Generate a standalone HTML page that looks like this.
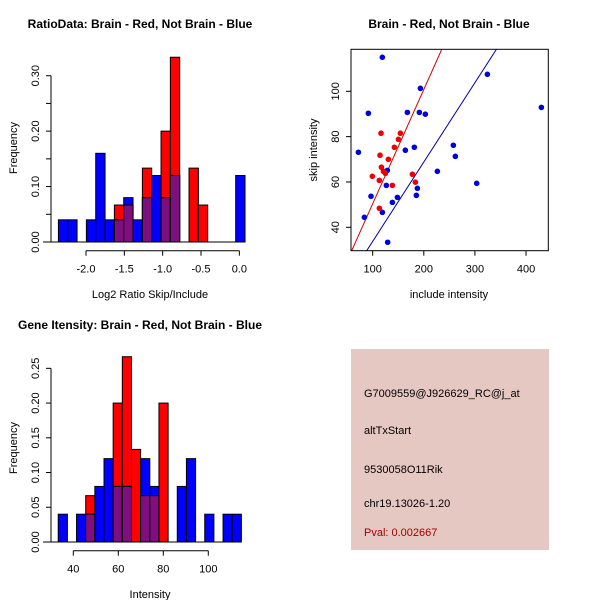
<!DOCTYPE html>
<html><head><meta charset="utf-8"><style>
body{margin:0;background:#fff;}
svg{display:block;font-family:"Liberation Sans",sans-serif;}
</style></head><body>
<svg id="s" width="600" height="600" xmlns="http://www.w3.org/2000/svg">
<rect x="0" y="0" width="600" height="600" fill="#fff"/>
<text x="140" y="28" font-size="12" font-weight="bold" text-anchor="middle">RatioData: Brain - Red, Not Brain - Blue</text>
<text x="449" y="28" font-size="12" font-weight="bold" text-anchor="middle">Brain - Red, Not Brain - Blue</text>
<text x="140" y="329" font-size="12" font-weight="bold" text-anchor="middle">Gene Itensity: Brain - Red, Not Brain - Blue</text>
<text x="150" y="298" font-size="11" text-anchor="middle">Log2 Ratio Skip/Include</text>
<text transform="translate(17,148) rotate(-90)" font-size="11" text-anchor="middle">Frequency</text>
<text x="449" y="298" font-size="11" text-anchor="middle">include intensity</text>
<text transform="translate(317,150) rotate(-90)" font-size="11" text-anchor="middle">skip intensity</text>
<text x="150" y="598" font-size="11" text-anchor="middle">Intensity</text>
<text transform="translate(17,448) rotate(-90)" font-size="11" text-anchor="middle">Frequency</text>
<g>
<rect x="351" y="349" width="198" height="201" fill="#e6c8c2"/>
<text x="364" y="397" font-size="11">G7009559@J926629_RC@j_at</text>
<text x="364" y="434" font-size="11">altTxStart</text>
<text x="364" y="473" font-size="11">9530058O11Rik</text>
<text x="364" y="507" font-size="11">chr19.13026-1.20</text>
<text x="364" y="536" font-size="11" fill="#a00000">Pval: 0.002667</text>
</g>
<g id="g1"></g><g id="g2"></g><g id="g3"></g>
</svg>
<script>
// Ratio histogram
const ratioBlue=[0.04,0.04,0,0.04,0.16,0.04,0.04,0.08,0.04,0.08,0.12,0.08,0.12,0,0,0,0,0,0,0.12];
const ratioRed=[0,0,0,0,0,0,0.0667,0.0667,0,0.1333,0,0.2,0.3333,0,0.1333,0.0667,0,0,0,0];
const ratioBinStart=-2.36, ratioBinWidth=0.1217;
const ratioXTicks=[-2.0,-1.5,-1.0,-0.5,0.0];
const ratioXLabels=["-2.0","-1.5","-1.0","-0.5","0.0"];
const ratioYTicks=[0,0.05,0.10,0.15,0.20,0.25,0.30];
const ratioYLabels=["0.00","","0.10","","0.20","","0.30"];
// Intensity histogram
const intBlue=[0.04,0,0.04,0.04,0.08,0.12,0.08,0.08,0,0.12,0.08,0,0,0.08,0.12,0,0.04,0,0.04,0.04];
const intRed=[0,0,0,0.0667,0,0,0.2,0.2667,0.1333,0.0667,0.0667,0.2,0,0,0,0,0,0,0,0];
const intBinStart=33.3, intBinWidth=4.07;
const intXTicks=[40,60,80,100];
const intXLabels=["40","60","80","100"];
const intYTicks=[0,0.05,0.10,0.15,0.20,0.25];
const intYLabels=["0.00","0.05","0.10","0.15","0.20","0.25"];
// Scatter
const blueX=[118.9,72,91.5,83.7,96.7,118.9,128.7,126.7,129.3,138.5,148.3,163.9,167.8,181.5,185.4,187.4,191.3,193.3,203,226.5,257.8,261.7,303.5,324.4,430];
const blueY=[115,73.1,90.3,44.4,53.7,46.6,65.1,58.5,33.4,51,53.2,74,90.7,75.3,54.1,57.2,90.7,101.3,89.9,64.7,76.2,71.3,59.4,107.5,92.9];
const redX=[116.3,114.3,99.3,113,113,117,121,124.8,130.7,138.5,142.4,150.3,154.1,177.6,183.5];
const redY=[81.5,71.8,62.5,60.7,48.4,66.5,64.7,63.8,70,58.5,75.3,78.8,81.5,63.4,59.9];
const redSlope=0.504, redIntercept=0;
const blueSlope=0.350, blueIntercept=-1.2;
const scXTicks=[100,200,300,400];
const scYTicks=[40,60,80,100];

const NS="http://www.w3.org/2000/svg";
function mk(parent,tag,attrs){const e=document.createElementNS(NS,tag);for(const k in attrs)e.setAttribute(k,attrs[k]);parent.appendChild(e);return e;}

function hist(g,blue,red,bs,bw,xt,xl,yt,yl,sx,sy,base,axisY,yAxisX,pref){
  for(let i=0;i<blue.length;i++){
    const x0=sx(bs+i*bw), x1=sx(bs+(i+1)*bw);
    const b=blue[i], r=red[i];
    if(r>0){const e=mk(g,'rect',{x:x0,y:sy(r),width:x1-x0,height:base-sy(r),fill:'#ff0000',stroke:'#000','stroke-width':1});
      
      }
    if(b>0){const e=mk(g,'rect',{x:x0,y:sy(b),width:x1-x0,height:base-sy(b),fill:'#0000ff',stroke:'#000','stroke-width':1});
      
      }
    if(b>0&&r>0){const m=Math.min(b,r);const e=mk(g,'rect',{x:x0,y:sy(m),width:x1-x0,height:base-sy(m),fill:'#7f0f7f',stroke:'#000','stroke-width':1});
      
      }
  }
  mk(g,'line',{x1:43,y1:base,x2:sx(bs+blue.length*bw),y2:base,stroke:'#000'});
  mk(g,'line',{x1:sx(xt[0]),y1:axisY,x2:sx(xt[xt.length-1]),y2:axisY,stroke:'#000'});
  xt.forEach((v,i)=>{mk(g,'line',{x1:sx(v),y1:axisY,x2:sx(v),y2:axisY+5,stroke:'#000'});
    const t=mk(g,'text',{x:sx(v),y:axisY+22,'font-size':11,'text-anchor':'middle'});t.textContent=xl[i];
    
    });
  mk(g,'line',{x1:yAxisX,y1:sy(yt[0]),x2:yAxisX,y2:sy(yt[yt.length-1]),stroke:'#000'});
  yt.forEach((v,i)=>{mk(g,'line',{x1:yAxisX-5,y1:sy(v),x2:yAxisX,y2:sy(v),stroke:'#000'});
    if(yl[i]){const t=mk(g,'text',{transform:`translate(${yAxisX-12},${sy(v)}) rotate(-90)`,'font-size':11,'text-anchor':'middle'});t.textContent=yl[i];
    
    }});
}
hist(document.getElementById('g1'),ratioBlue,ratioRed,ratioBinStart,ratioBinWidth,ratioXTicks,ratioXLabels,ratioYTicks,ratioYLabels,
  v=>86+(v+2)*76.67, v=>242-v*554.3, 242, 250.7, 51,'ratio');
hist(document.getElementById('g3'),intBlue,intRed,intBinStart,intBinWidth,intXTicks,intXLabels,intYTicks,intYLabels,
  v=>73.3+(v-40)*2.25, v=>542-v*694.7, 542, 550.7, 51,'intensity');

// scatter
const g2=document.getElementById('g2');
const L=351,R=548.3,T=49.3,B=250.7;
const sx=v=>372.7+(v-100)*0.5111, sy=v=>91.3-(v-100)*2.2667;
const ix=x=>100+(x-372.7)/0.5111;
const cp=mk(g2,'clipPath',{id:'cp'});
mk(cp,'rect',{x:L,y:T,width:R-L,height:B-T});
const lg=mk(g2,'g',{'clip-path':'url(#cp)'});
[[redSlope,redIntercept,'#cc0000','red-fit-line'],[blueSlope,blueIntercept,'#0000aa','blue-fit-line']].forEach(([m,c,col,n])=>{
  const xa=ix(L),xb=ix(R);
  const e=mk(lg,'line',{x1:L,y1:sy(m*xa+c),x2:R,y2:sy(m*xb+c),stroke:col,'stroke-width':1});
  
  
});
blueX.forEach((x,i)=>{const e=mk(g2,'circle',{cx:sx(x),cy:sy(blueY[i]),r:2.8,fill:'#0000dd'});
  
  });
redX.forEach((x,i)=>{const e=mk(g2,'circle',{cx:sx(x),cy:sy(redY[i]),r:2.8,fill:'#ee0000'});
  
  });
const box=mk(g2,'rect',{x:L,y:T,width:R-L,height:B-T,fill:'none',stroke:'#000'});


scXTicks.forEach(v=>{mk(g2,'line',{x1:sx(v),y1:B,x2:sx(v),y2:B+5,stroke:'#000'});
  const t=mk(g2,'text',{x:sx(v),y:B+22,'font-size':11,'text-anchor':'middle'});t.textContent=v;
  
  });
scYTicks.forEach(v=>{mk(g2,'line',{x1:L-5,y1:sy(v),x2:L,y2:sy(v),stroke:'#000'});
  const t=mk(g2,'text',{transform:`translate(${L-12},${sy(v)}) rotate(-90)`,'font-size':11,'text-anchor':'middle'});t.textContent=v;
  
  });
</script>
</body></html>
